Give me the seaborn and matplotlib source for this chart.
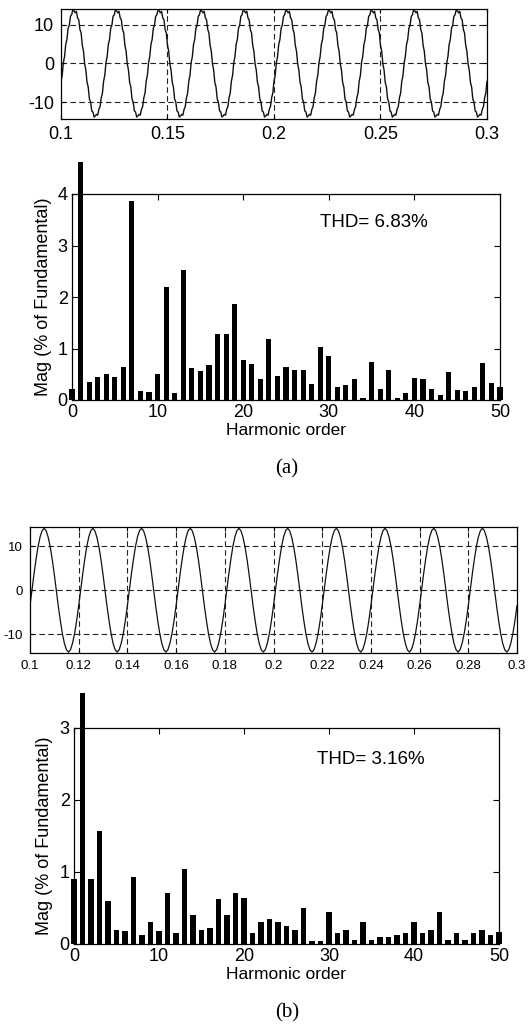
import numpy as np
import pandas as pd
import matplotlib
matplotlib.use("Agg")
import matplotlib.pyplot as plt
import seaborn as sns

# ---------------- data ----------------
harmonic_order = list(range(0, 51))

mag_a = [0.22, 4.62, 0.35, 0.45, 0.50, 0.45, 0.64, 3.86, 0.18, 0.15,
         0.50, 2.19, 0.13, 2.52, 0.62, 0.57, 0.68, 1.28, 1.28, 1.86,
         0.77, 0.70, 0.40, 1.19, 0.47, 0.64, 0.58, 0.58, 0.32, 1.03,
         0.85, 0.25, 0.30, 0.40, 0.03, 0.74, 0.22, 0.58, 0.03, 0.14,
         0.43, 0.41, 0.22, 0.10, 0.54, 0.20, 0.18, 0.26, 0.72, 0.33, 0.25]

mag_b = [0.90, 3.49, 0.90, 1.57, 0.60, 0.20, 0.18, 0.93, 0.13, 0.30,
         0.18, 0.71, 0.15, 1.04, 0.40, 0.20, 0.22, 0.62, 0.40, 0.71,
         0.64, 0.15, 0.30, 0.35, 0.30, 0.25, 0.20, 0.50, 0.04, 0.04,
         0.45, 0.15, 0.20, 0.05, 0.30, 0.05, 0.10, 0.10, 0.12, 0.15,
         0.30, 0.15, 0.20, 0.45, 0.05, 0.15, 0.05, 0.15, 0.20, 0.12, 0.17]

thd_a = "THD= 6.83%"
thd_b = "THD= 3.16%"

# one period (20 ms) of each waveform, starting at t = 0.1 s
cycle_a = [-4.6, -3.1, 0.2, 1.8, 4.9, 6.2, 9.1, 9.9, 12.2, 12.6, 13.9, 13.6,
           13.1, 13.5, 11.8, 11.3, 8.8, 7.9, 4.7, 3.2, -0.1, -1.7, -4.9, -6.1,
           -9.2, -10.0, -12.3, -12.6, -13.9, -13.6, -13.2, -13.4, -11.9, -11.2, -8.9, -7.7]
cycle_b = [-3.5, 0.2, 3.8, 7.1, 10.0, 12.2, 13.6, 14.1, 13.5, 12.0, 9.8, 6.9,
           3.5, -0.2, -3.8, -7.1, -10.0, -12.2, -13.6, -14.1, -13.5, -12.0, -9.8, -6.9]
n_cycles = 10
t_start, t_end = 0.1, 0.3

xt_a = [0.1, 0.15, 0.2, 0.25, 0.3]
xt_a_labels = ["0.1", "0.15", "0.2", "0.25", "0.3"]
xt_b = [0.1, 0.12, 0.14, 0.16, 0.18, 0.2, 0.22, 0.24, 0.26, 0.28, 0.3]
xt_b_labels = ["0.1", "0.12", "0.14", "0.16", "0.18", "0.2", "0.22", "0.24", "0.26", "0.28", "0.3"]
yt_wave = [-10, 0, 10]
bar_xticks = [0, 10, 20, 30, 40, 50]

# ---------------- style ----------------
sns.set_theme(style="white")
plt.rcParams["font.family"] = ["Liberation Sans", "DejaVu Sans"]
plt.rcParams["axes.edgecolor"] = "black"
plt.rcParams["axes.linewidth"] = 0.9
plt.rcParams["text.color"] = "black"
plt.rcParams["axes.labelcolor"] = "black"
plt.rcParams["xtick.color"] = "black"
plt.rcParams["ytick.color"] = "black"

W, H = 528, 1034
fig = plt.figure(figsize=(W / 100, H / 100), dpi=100)
fig.patch.set_facecolor("white")


def add_ax(left, top, right, bottom):
    return fig.add_axes([left / W, 1 - bottom / H, (right - left) / W, (bottom - top) / H])


def wave_df(cycle):
    n = len(cycle) * n_cycles
    t = np.linspace(t_start, t_end, n + 1)
    v = np.array(cycle * n_cycles + cycle[:1])
    return pd.DataFrame({"t": t, "v": v})


def draw_wave(ax, cycle, xticks, xlabels, ylim, fs, lw):
    df = wave_df(cycle)
    sns.lineplot(data=df, x="t", y="v", ax=ax, color="#111111", lw=lw, estimator=None)
    ax.set_xlim(t_start, t_end)
    ax.set_ylim(*ylim)
    ax.set_xticks(xticks)
    ax.set_xticklabels(xlabels)
    ax.set_yticks(yt_wave)
    ax.set_yticklabels([str(v) for v in yt_wave])
    ax.tick_params(direction="in", length=3, width=0.8, labelsize=fs, pad=5,
                   top=True, right=True, bottom=True, left=True)
    for x in xticks[1:-1]:
        ax.axvline(x, color="#222222", lw=0.8, ls=(0, (5, 3)), zorder=0)
    for y in yt_wave:
        ax.axhline(y, color="#222222", lw=0.8, ls=(0, (5, 3)), zorder=0)
    ax.set_xlabel("")
    ax.set_ylabel("")
    for s in ax.spines.values():
        s.set_visible(True)
        s.set_color("black")


def draw_bars(ax, mags, ylim, yticks, thd, thd_xy, label_x):
    df = pd.DataFrame({"h": harmonic_order, "m": mags})
    sns.barplot(data=df, x="h", y="m", ax=ax, native_scale=True, color="black",
                width=0.6, saturation=1, edgecolor="black", linewidth=0)
    for p in ax.patches:
        p.set_clip_on(False)
    ax.set_xlim(0, 50)
    ax.set_ylim(*ylim)
    ax.set_xticks(bar_xticks)
    ax.set_xticklabels([str(v) for v in bar_xticks])
    ax.set_yticks(yticks)
    ax.set_yticklabels([str(v) for v in yticks])
    ax.tick_params(direction="in", length=4, width=0.8, labelsize=13, pad=3,
                   top=True, right=True, bottom=True, left=True)
    ax.set_xlabel("Harmonic order", fontsize=12.5, labelpad=1)
    ax.set_ylabel("Mag (% of Fundamental)", fontsize=13)
    ax.yaxis.set_label_coords(label_x, 0.5)
    ax.text(thd_xy[0], thd_xy[1], thd, fontsize=13.5, ha="left", va="center")
    for s in ax.spines.values():
        s.set_visible(True)
        s.set_color("black")


# (a) waveform
ax1 = add_ax(61, 9, 487, 119)
draw_wave(ax1, cycle_a, xt_a, xt_a_labels, (-14.4, 14.1), 13, 1.0)

# (a) spectrum
ax2 = add_ax(72, 194, 500, 400)
draw_bars(ax2, mag_a, (0, 4), [0, 1, 2, 3, 4], thd_a, (29.0, 3.44), -0.047)

fig.text(287 / W, 1 - 469 / H, "(a)", ha="center", va="center", fontsize=15,
         family=["Liberation Serif", "DejaVu Serif"])

# (b) waveform
ax3 = add_ax(30, 527, 517, 653)
draw_wave(ax3, cycle_b, xt_b, xt_b_labels, (-14.3, 14.4), 9.5, 0.9)

# (b) spectrum
ax4 = add_ax(74, 728, 499, 944)
draw_bars(ax4, mag_b, (0, 3), [0, 1, 2, 3], thd_b, (28.6, 2.56), -0.049)

fig.text(287 / W, 1 - 1013 / H, "(b)", ha="center", va="center", fontsize=15,
         family=["Liberation Serif", "DejaVu Serif"])

fig.savefig("out.png", dpi=100, facecolor="white")
